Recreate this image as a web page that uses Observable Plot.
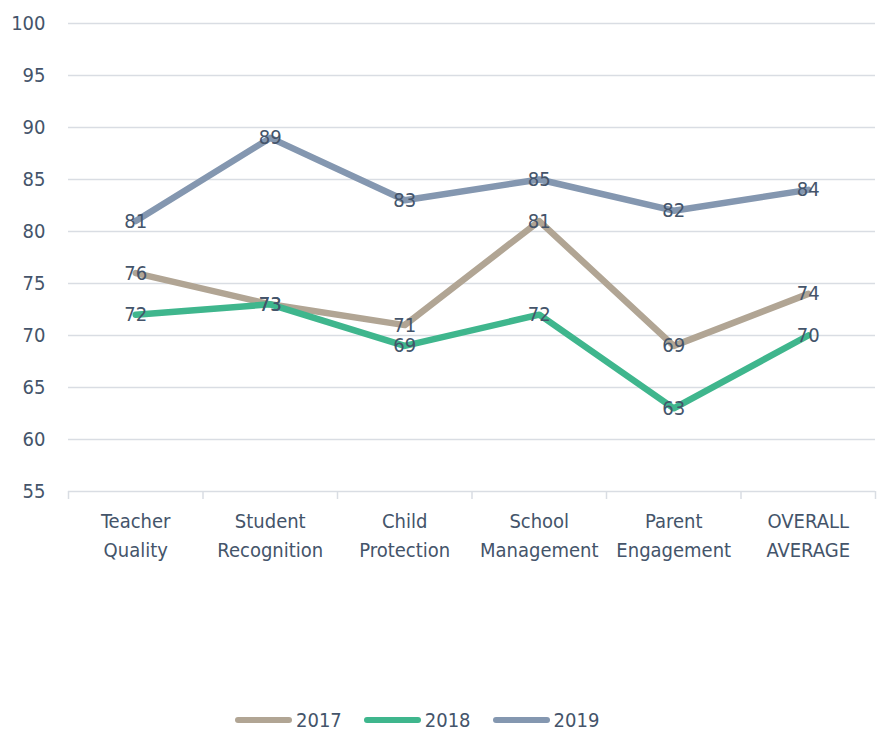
<!DOCTYPE html>
<html><head><meta charset="utf-8">
<script src="https://cdn.jsdelivr.net/npm/d3@7"></script>
<script src="https://cdn.jsdelivr.net/npm/@observablehq/plot@0.6"></script>
<style>
body{margin:0;background:#fff;font-family:"DejaVu Sans Condensed",sans-serif;}
#wrap{position:relative;width:882px;height:731px;}
#legend{position:absolute;top:708px;left:235px;display:flex;align-items:center;font-size:20px;color:#44546a;}
.item{display:flex;align-items:center;margin-right:22px;}
.sw{width:57px;height:6px;border-radius:3px;margin-right:4px;}
</style></head>
<body><div id="wrap"><div id="chart"></div><div id="legend"></div></div>
<script>
const categories = ["Teacher\nQuality","Student\nRecognition","Child\nProtection","School\nManagement","Parent\nEngagement","OVERALL\nAVERAGE"];
const years = ["2017","2018","2019"];
const values2017 = [76,73,71,81,69,74];
const values2018 = [72,73,69,72,63,70];
const values2019 = [81,89,83,85,82,84];
const yTicks = [55,60,65,70,75,80,85,90,95,100];
const colors = ["#b1a594","#3fb68d","#8497b0"];

const series = [values2017, values2018, values2019];
const data = [];
series.forEach((vals, s) => vals.forEach((v, i) => data.push({year: years[s], i, v})));
const boundaries = d3.range(categories.length + 1).map(k => k - 0.5);
const textColor = "#44546a";
const font = "DejaVu Sans Condensed, sans-serif";

const chart = Plot.plot({
  width: 882, height: 700,
  marginLeft: 68, marginRight: 7, marginTop: 23, marginBottom: 209,
  style: {fontFamily: font, fontSize: "20px", color: textColor, background: "#fff"},
  x: {type: "linear", domain: [-0.5, categories.length - 0.5], axis: null},
  y: {domain: [55, 100], axis: null},
  color: {domain: years, range: colors},
  marks: [
    Plot.ruleY(yTicks, {stroke: "#d9dde3", strokeWidth: 1.5}),
    Plot.axisY(yTicks, {tickSize: 0, tickPadding: 23, fontSize: 20, fill: textColor, label: null}),
    Plot.axisX(boundaries, {tickSize: 8, stroke: "#d9dde3", strokeWidth: 1.5, tickFormat: () => "", label: null}),
    Plot.text(categories, {x: (d, i) => i, y: 55, text: d => d, dy: 16, lineAnchor: "top", lineHeight: 1.45, fontSize: 20, fill: textColor}),
    Plot.line(data, {x: "i", y: "v", z: "year", stroke: "year", strokeWidth: 6.5, strokeLinejoin: "round", strokeLinecap: "round"}),
    Plot.text(data, {x: "i", y: "v", text: d => String(d.v), fontSize: 20, fill: textColor})
  ]
});
document.getElementById("chart").appendChild(chart);

const legend = document.getElementById("legend");
years.forEach((y, k) => {
  const it = document.createElement("div"); it.className = "item";
  const sw = document.createElement("div"); sw.className = "sw"; sw.style.background = colors[k];
  const lb = document.createElement("span"); lb.textContent = y;
  it.appendChild(sw); it.appendChild(lb); legend.appendChild(it);
});
</script></body></html>
